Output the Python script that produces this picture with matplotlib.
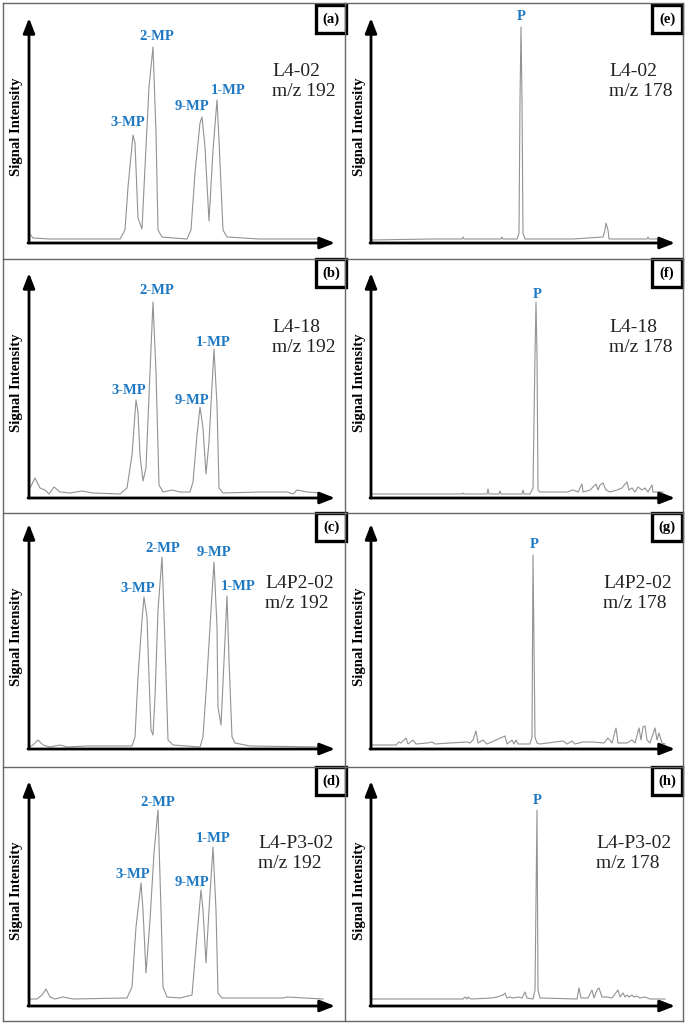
import matplotlib
matplotlib.use('Agg')
import matplotlib.pyplot as plt
from matplotlib.patches import Rectangle

plt.rcParams['font.family'] = ['Liberation Serif', 'DejaVu Serif']

W, H = 685, 1025

# ---- m/z 192 traces (retention position, signal) ----
a_t = [0, 4, 20, 60, 91, 96, 99, 104, 106, 109, 113, 116, 120, 124, 127, 129, 133, 144, 158,
       162, 166, 171, 173, 176, 180, 184, 188, 190, 194, 198, 230, 291]
a_i = [10, 5, 4, 4, 4, 13, 56, 108, 100, 25, 14, 76, 156, 196, 110, 13, 6, 5, 4,
       13, 70, 120, 126, 96, 22, 93, 143, 103, 13, 6, 4, 4]

b_t = [0, 6, 11, 16, 20, 25, 31, 41, 53, 64, 91, 98, 103, 107, 109, 111, 114, 117, 121, 124,
       127, 130, 134, 143, 151, 161, 164, 168, 171, 174, 177, 180, 185, 188, 190, 194,
       231, 258, 264, 268, 278, 291]
b_i = [8, 20, 10, 8, 4, 11, 6, 5, 7, 5, 4, 10, 43, 98, 86, 43, 17, 30, 126, 196,
       126, 13, 6, 8, 6, 6, 16, 63, 91, 70, 24, 56, 149, 93, 10, 5,
       6, 6, 4, 8, 6, 5]

c_t = [0, 4, 9, 14, 21, 31, 38, 58, 103, 106, 109, 113, 115, 118, 120, 122, 124, 126, 129,
       133, 136, 139, 144, 158, 171, 174, 178, 182, 185, 188, 189, 192, 194, 198, 200,
       203, 206, 221, 294]
c_i = [2, 4, 9, 4, 2, 4, 2, 3, 3, 12, 72, 129, 152, 132, 72, 19, 14, 52, 139,
       192, 106, 9, 4, 3, 2, 12, 72, 139, 187, 122, 42, 24, 66, 153, 89,
       12, 6, 3, 2]

d_t = [0, 8, 13, 17, 21, 26, 34, 44, 98, 103, 107, 112, 114, 117, 121, 125, 129, 132, 134,
       138, 151, 163, 167, 172, 174, 177, 180, 184, 187, 189, 193, 254, 258, 294]
d_i = [7, 7, 11, 17, 9, 7, 9, 7, 8, 19, 79, 123, 96, 33, 86, 153, 196, 96, 19,
       9, 8, 11, 59, 116, 96, 43, 96, 159, 96, 13, 8, 8, 9, 7]

# ---- m/z 178 traces ----
e_t = [0, 60, 91, 92, 93, 130, 131, 132, 146, 148, 149, 150, 151, 152, 154, 202, 232, 234,
       235, 237, 238, 276, 277, 278, 292]
e_i = [3, 4, 4, 6, 4, 4, 6, 4, 4, 10, 143, 216, 143, 10, 4, 4, 6, 13,
       20, 13, 4, 4, 6, 4, 4]

f_t = [0, 91, 92, 93, 116, 117, 118, 128, 129, 130, 151, 152, 153, 159, 162, 164, 165,
       166, 167, 169, 196, 202, 207, 211, 212, 219, 222, 225, 227, 229, 232, 235, 239,
       246, 251, 254, 256, 258, 261, 264, 267, 271, 274, 277, 281, 282, 292]
f_i = [4, 4, 5, 4, 4, 9, 4, 4, 7, 4, 4, 8, 4, 4, 10, 143, 196,
       143, 8, 6, 6, 8, 6, 14, 6, 8, 11, 14, 8, 13, 15, 8, 6,
       8, 10, 14, 16, 8, 10, 6, 11, 8, 10, 6, 13, 6, 6]

g_t = [1, 25, 28, 30, 35, 37, 42, 45, 56, 61, 64, 79, 96, 99, 102, 105, 107, 112, 116,
       134, 136, 141, 143, 145, 147, 159, 161, 162, 164, 166, 169, 192, 196, 201, 204,
       212, 222, 233, 237, 241, 245, 247, 256, 261, 264, 268, 270, 272, 274, 276, 279,
       284, 286, 288, 291, 294]
g_i = [4, 4, 7, 6, 11, 5, 9, 5, 6, 7, 5, 6, 7, 6, 9, 18, 6, 9, 5,
       13, 5, 9, 5, 9, 5, 5, 12, 194, 12, 6, 5, 8, 5, 8, 5,
       7, 7, 6, 11, 6, 21, 6, 6, 9, 6, 21, 9, 22, 23, 9, 6,
       21, 9, 16, 6, 5]

h_t = [1, 92, 94, 96, 97, 100, 121, 126, 132, 134, 136, 139, 142, 147, 151, 154, 156, 162,
       164, 166, 167, 169, 206, 208, 210, 217, 221, 223, 226, 228, 231, 236, 241, 247,
       249, 252, 254, 256, 258, 261, 263, 266, 269, 274, 279, 294]
h_i = [7, 7, 9, 7, 9, 7, 8, 9, 11, 13, 8, 9, 8, 9, 8, 14, 8, 7,
       16, 196, 16, 8, 7, 18, 8, 8, 16, 8, 16, 18, 9, 9, 8, 16,
       9, 13, 9, 11, 9, 11, 9, 10, 8, 9, 7, 7]

# ---- annotations ----
mp_peaks = ['3-MP', '2-MP', '9-MP', '1-MP']
p_peak = ['P']
samples = ['L4-02', 'L4-18', 'L4P2-02', 'L4-P3-02']
mz_left, mz_right = 'm/z 192', 'm/z 178'
letters_left = ['(a)', '(b)', '(c)', '(d)']
letters_right = ['(e)', '(f)', '(g)', '(h)']

left_traces = [(a_t, a_i), (b_t, b_i), (c_t, c_i), (d_t, d_i)]
right_traces = [(e_t, e_i), (f_t, f_i), (g_t, g_i), (h_t, h_i)]

# label placement (pixels from axis origin)
left_label_pos = [
    [(99, 120), (128, 206), (163, 136), (199, 152)],
    [(100, 108), (128, 208), (163, 98), (184, 156)],
    [(109, 161), (134, 201), (185, 197), (209, 162)],
    [(104, 131), (129, 203), (163, 124), (184, 167)],
]
right_label_pos = [[(150, 226)], [(166, 204)], [(163, 204)], [(166, 205)]]
left_sample_pos = [(243, 171), (243, 170), (236, 166), (229, 163)]
right_sample_pos = [(238, 171), (238, 170), (232, 166), (225, 163)]

row_tops = [3, 259, 513, 767, 1021]
origin_y = [243, 498, 749, 1006]
col_lefts = [3, 345, 683]
origin_x = [29, 371]
axis_w = [306, 304]
axis_h = 225
box_x = [316, 652]

blue = '#1E78C2'
border = '#666666'

fig = plt.figure(figsize=(W / 100, H / 100), dpi=100)


def fx(x):
    return x / W


def fy(y):
    return 1 - y / H


# table grid
for y in row_tops:
    fig.add_artist(plt.Line2D([fx(3), fx(683)], [fy(y), fy(y)], color=border, lw=1))
for x in col_lefts:
    fig.add_artist(plt.Line2D([fx(x), fx(x)], [fy(3), fy(1021)], color=border, lw=1))

for col in range(2):
    traces = left_traces if col == 0 else right_traces
    names = mp_peaks if col == 0 else p_peak
    lab_pos = left_label_pos if col == 0 else right_label_pos
    samp_pos = left_sample_pos if col == 0 else right_sample_pos
    letters = letters_left if col == 0 else letters_right
    mz = mz_left if col == 0 else mz_right
    aw = axis_w[col]
    for row in range(4):
        ox, oy = origin_x[col], origin_y[row]
        ax = fig.add_axes([fx(ox), fy(oy), aw / W, axis_h / H])
        ax.set_xlim(0, aw)
        ax.set_ylim(0, axis_h)
        ax.axis('off')
        t, i = traces[row]
        ax.plot(t, i, color='#929292', lw=0.8, clip_on=False)
        # axis arrows
        arrow = dict(arrowstyle='-|>,head_length=0.9,head_width=0.35', color='black',
                     lw=2.0, shrinkA=0, shrinkB=0, mutation_scale=10)
        ax.annotate('', xy=(0, axis_h), xytext=(0, 0), arrowprops=arrow, annotation_clip=False)
        ax.annotate('', xy=(aw, 0), xytext=(-1, 0), arrowprops=arrow, annotation_clip=False)
        # peak names
        for name, (px, py) in zip(names, lab_pos[row]):
            ax.text(px, py, name, color=blue, fontsize=10.5, fontweight='bold',
                    ha='center', va='center', clip_on=False)
        sx, sy = samp_pos[row]
        ax.text(sx, sy, samples[row], fontsize=14, color='#222222', ha='left', va='center')
        ax.text(sx, sy - 20, mz, fontsize=14, color='#222222', ha='left', va='center')
        # y label
        cell_left = col_lefts[col]
        fig.text(fx(cell_left + 14), fy(row_tops[row] + 124), 'Signal Intensity',
                 rotation=90, fontsize=10.5, fontweight='bold', ha='center', va='center')
        # panel letter box
        bx = box_x[col]
        bt = row_tops[row] + (2 if row == 0 else 0)
        fig.add_artist(Rectangle((fx(bx), fy(bt + 28)), 30 / W, 28 / H, transform=fig.transFigure,
                                 facecolor='white', edgecolor='black', lw=2.4))
        fig.text(fx(bx + 15), fy(bt + 14), letters[row], fontsize=10.5, fontweight='bold',
                 ha='center', va='center')

fig.savefig('out.png', dpi=100, facecolor='white')
